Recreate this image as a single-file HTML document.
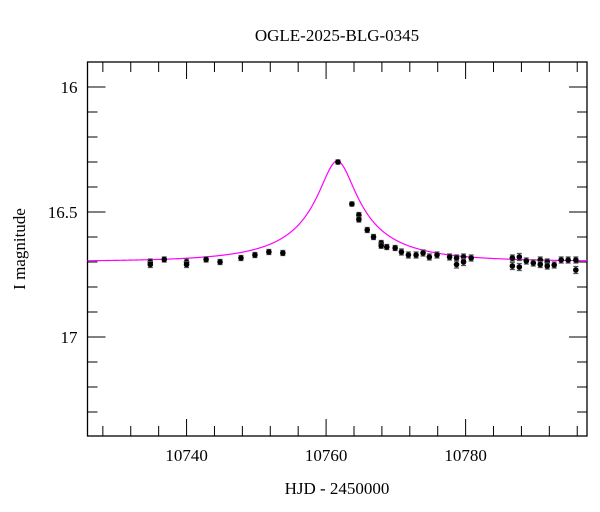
<!DOCTYPE html>
<html><head><meta charset="utf-8"><style>
body{margin:0;background:#fff}
svg{display:block;font-family:"Liberation Serif",serif}
</style></head><body>
<svg id="chart" width="600" height="512" xmlns="http://www.w3.org/2000/svg">
<rect width="600" height="512" fill="#fff"/>
<text x="337" y="41" text-anchor="middle" font-size="17">OGLE-2025-BLG-0345</text>
<text transform="translate(25,249) rotate(-90)" text-anchor="middle" font-size="17">I magnitude</text>
<text x="337" y="494" text-anchor="middle" font-size="17">HJD - 2450000</text>
<g id="axes"></g>
<g id="model"></g>
<g id="points"></g>
</svg>
<script>
const days = [10734.8,10734.8,10736.8,10740.0,10740.0,10742.8,10744.8,10747.8,10749.8,10751.8,10753.8,10761.7,10763.7,10764.7,10764.7,10765.9,10766.8,10767.9,10767.9,10768.7,10769.9,10770.8,10771.8,10772.9,10773.9,10774.8,10775.9,10777.7,10778.7,10778.7,10779.7,10779.7,10780.8,10786.7,10786.7,10787.7,10787.7,10788.7,10789.7,10790.7,10790.7,10791.7,10791.7,10792.7,10793.7,10794.7,10795.8,10795.8];
const mags = [16.70,16.71,16.69,16.70,16.71,16.69,16.70,16.684,16.672,16.66,16.664,16.30,16.468,16.512,16.53,16.572,16.60,16.624,16.635,16.64,16.644,16.66,16.672,16.672,16.664,16.68,16.672,16.68,16.684,16.71,16.68,16.70,16.684,16.684,16.716,16.68,16.72,16.696,16.704,16.692,16.71,16.70,16.716,16.712,16.692,16.692,16.692,16.732];
const errs = [0.012,0.012,0.01,0.012,0.012,0.01,0.01,0.01,0.01,0.01,0.01,0.008,0.008,0.01,0.01,0.01,0.01,0.01,0.01,0.01,0.01,0.012,0.012,0.012,0.012,0.012,0.012,0.012,0.012,0.014,0.012,0.014,0.012,0.012,0.014,0.014,0.014,0.012,0.012,0.012,0.012,0.012,0.012,0.012,0.012,0.012,0.012,0.014];
const xTicks = [10740,10760,10780];
const yTicks = [16,16.5,17];
const modelParams = {t0:10761.6,u0:0.185,tE:14,fs:0.1,base:16.698};

const L=87.5,R=587,T=62,B=436, X0=10725.8,X1=10797.4, Y0=15.9,Y1=17.396;
const sx=d=>L+(d-X0)/(X1-X0)*(R-L);
const sy=m=>T+(m-Y0)/(Y1-Y0)*(B-T);
const NS='http://www.w3.org/2000/svg';
function mk(tag,attrs,parent){const e=document.createElementNS(NS,tag);for(const k in attrs)e.setAttribute(k,attrs[k]);parent.appendChild(e);return e;}
const axes=document.getElementById('axes');
const frame=mk('rect',{x:L,y:T,width:R-L,height:B-T,fill:'none',stroke:'#000','stroke-width':1.3},axes);


for(let d=10728;d<=10796;d+=4){
  const major=(d%20===0);const len=major?17:10;const x=sx(d);
  const t1=mk('line',{x1:x,x2:x,y1:B,y2:B-len,stroke:'#000','stroke-width':1},axes);
  
  
  const t2=mk('line',{x1:x,x2:x,y1:T,y2:T+len,stroke:'#000','stroke-width':1},axes);
  
  
}
xTicks.forEach(d=>{
  const t=mk('text',{x:sx(d),y:B+25,'text-anchor':'middle','font-size':17},axes);
  t.textContent=d;
  
  
});
for(let i=0;i<=14;i++){
  const m=15.9+i*0.1; if(m>17.39)break;
  const major=Math.abs(m*2-Math.round(m*2))<1e-6;const len=major?18:10;const y=sy(m);
  const t1=mk('line',{x1:L,x2:L+len,y1:y,y2:y,stroke:'#000','stroke-width':1},axes);
  
  
  const t2=mk('line',{x1:R,x2:R-len,y1:y,y2:y,stroke:'#000','stroke-width':1},axes);
  
  
}
yTicks.forEach(m=>{
  const t=mk('text',{x:L-10,y:sy(m)+6,'text-anchor':'end','font-size':17},axes);
  t.textContent=String(m);
  
  
});
function magModel(t){const p=modelParams;const tau=(t-p.t0)/p.tE;const u=Math.sqrt(p.u0*p.u0+tau*tau);
  const A=(u*u+2)/(u*Math.sqrt(u*u+4));return p.base-2.5*Math.log10(p.fs*A+1-p.fs);}
let dstr='';for(let t=X0;t<=X1;t+=0.05){dstr+=(dstr?'L':'M')+sx(t).toFixed(2)+','+sy(magModel(t)).toFixed(2);}
const ml=mk('path',{d:dstr,fill:'none',stroke:'#ff00ff','stroke-width':1.2},document.getElementById('model'));


const pg=document.getElementById('points');
days.forEach((d,i)=>{
  const x=sx(d),y=sy(mags[i]),e=errs[i]*(B-T)/(Y1-Y0);
  const g=mk('g',{},pg);
  
  
  mk('line',{x1:x,x2:x,y1:y-e,y2:y+e,stroke:'#555','stroke-width':1.3},g);
  mk('line',{x1:x-2.5,x2:x+2.5,y1:y-e,y2:y-e,stroke:'#555','stroke-width':1.3},g);
  mk('line',{x1:x-2.5,x2:x+2.5,y1:y+e,y2:y+e,stroke:'#555','stroke-width':1.3},g);
  mk('circle',{cx:x,cy:y,r:2.8,fill:'#000'},g);
});
</script>
</body></html>
